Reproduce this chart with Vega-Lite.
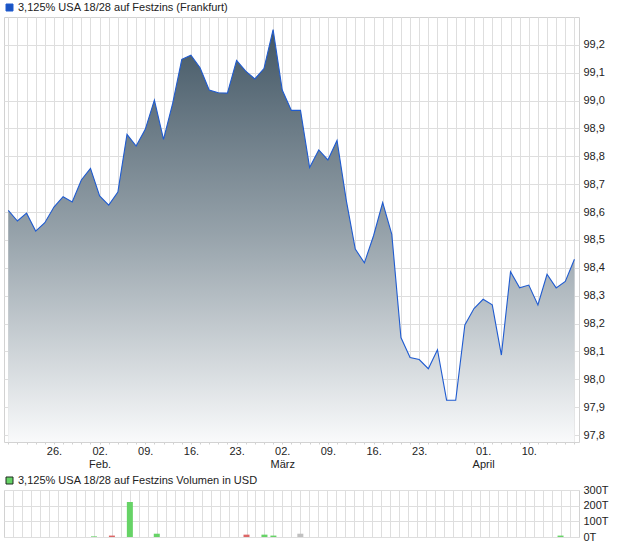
{
  "$schema": "https://vega.github.io/schema/vega-lite/v6.json",
  "background": "white",
  "padding": {"left": 3, "top": 1, "right": 0, "bottom": 0},
  "spacing": 4,
  "resolve": {"scale": {"color": "independent"}, "legend": {"color": "independent"}},
  "config": {
    "font": "Liberation Sans",
    "view": {"stroke": "#d2d2d2", "strokeWidth": 1},
    "axis": {"gridColor": "#dedede", "gridWidth": 1, "domain": false, "labelFont": "Liberation Sans", "labelFontSize": 11, "labelColor": "#222222", "tickColor": "#d0d0d0", "title": null},
    "legend": {"labelFont": "Liberation Sans", "labelFontSize": 11, "labelColor": "#222222", "title": null, "padding": 0, "symbolType": "square", "symbolSize": 49, "labelOffset": 3, "labelLimit": 400}
  },
  "datasets": {
    "d": [
      {"i": 0, "date": "2026-01-19", "price": 98.606, "vol": 0, "dir": "none"},
      {"i": 1, "date": "2026-01-20", "price": 98.568, "vol": 0, "dir": "none"},
      {"i": 2, "date": "2026-01-21", "price": 98.596, "vol": 0, "dir": "none"},
      {"i": 3, "date": "2026-01-22", "price": 98.532, "vol": 0, "dir": "none"},
      {"i": 4, "date": "2026-01-23", "price": 98.562, "vol": 0, "dir": "none"},
      {"i": 5, "date": "2026-01-26", "price": 98.618, "vol": 0, "dir": "none"},
      {"i": 6, "date": "2026-01-27", "price": 98.655, "vol": 0, "dir": "none"},
      {"i": 7, "date": "2026-01-28", "price": 98.636, "vol": 0, "dir": "none"},
      {"i": 8, "date": "2026-01-29", "price": 98.715, "vol": 0, "dir": "none"},
      {"i": 9, "date": "2026-01-30", "price": 98.757, "vol": 4000, "dir": "up"},
      {"i": 10, "date": "2026-02-02", "price": 98.658, "vol": 0, "dir": "none"},
      {"i": 11, "date": "2026-02-03", "price": 98.625, "vol": 9000, "dir": "down"},
      {"i": 12, "date": "2026-02-04", "price": 98.672, "vol": 0, "dir": "none"},
      {"i": 13, "date": "2026-02-05", "price": 98.879, "vol": 223000, "dir": "up"},
      {"i": 14, "date": "2026-02-06", "price": 98.837, "vol": 0, "dir": "none"},
      {"i": 15, "date": "2026-02-09", "price": 98.897, "vol": 0, "dir": "none"},
      {"i": 16, "date": "2026-02-10", "price": 99.002, "vol": 21000, "dir": "up"},
      {"i": 17, "date": "2026-02-11", "price": 98.861, "vol": 0, "dir": "none"},
      {"i": 18, "date": "2026-02-12", "price": 98.99, "vol": 0, "dir": "none"},
      {"i": 19, "date": "2026-02-13", "price": 99.148, "vol": 0, "dir": "none"},
      {"i": 20, "date": "2026-02-16", "price": 99.163, "vol": 0, "dir": "none"},
      {"i": 21, "date": "2026-02-17", "price": 99.118, "vol": 0, "dir": "none"},
      {"i": 22, "date": "2026-02-18", "price": 99.038, "vol": 0, "dir": "none"},
      {"i": 23, "date": "2026-02-19", "price": 99.028, "vol": 0, "dir": "none"},
      {"i": 24, "date": "2026-02-20", "price": 99.027, "vol": 0, "dir": "none"},
      {"i": 25, "date": "2026-02-23", "price": 99.144, "vol": 0, "dir": "none"},
      {"i": 26, "date": "2026-02-24", "price": 99.106, "vol": 15000, "dir": "down"},
      {"i": 27, "date": "2026-02-25", "price": 99.078, "vol": 0, "dir": "none"},
      {"i": 28, "date": "2026-02-26", "price": 99.115, "vol": 15000, "dir": "up"},
      {"i": 29, "date": "2026-02-27", "price": 99.255, "vol": 9000, "dir": "up"},
      {"i": 30, "date": "2026-03-02", "price": 99.038, "vol": 0, "dir": "none"},
      {"i": 31, "date": "2026-03-03", "price": 98.965, "vol": 0, "dir": "none"},
      {"i": 32, "date": "2026-03-04", "price": 98.965, "vol": 21000, "dir": "flat"},
      {"i": 33, "date": "2026-03-05", "price": 98.76, "vol": 0, "dir": "none"},
      {"i": 34, "date": "2026-03-06", "price": 98.823, "vol": 0, "dir": "none"},
      {"i": 35, "date": "2026-03-09", "price": 98.787, "vol": 0, "dir": "none"},
      {"i": 36, "date": "2026-03-10", "price": 98.857, "vol": 0, "dir": "none"},
      {"i": 37, "date": "2026-03-11", "price": 98.645, "vol": 0, "dir": "none"},
      {"i": 38, "date": "2026-03-12", "price": 98.467, "vol": 0, "dir": "none"},
      {"i": 39, "date": "2026-03-13", "price": 98.418, "vol": 0, "dir": "none"},
      {"i": 40, "date": "2026-03-16", "price": 98.515, "vol": 0, "dir": "none"},
      {"i": 41, "date": "2026-03-17", "price": 98.634, "vol": 0, "dir": "none"},
      {"i": 42, "date": "2026-03-18", "price": 98.52, "vol": 0, "dir": "none"},
      {"i": 43, "date": "2026-03-19", "price": 98.15, "vol": 0, "dir": "none"},
      {"i": 44, "date": "2026-03-20", "price": 98.078, "vol": 0, "dir": "none"},
      {"i": 45, "date": "2026-03-23", "price": 98.071, "vol": 0, "dir": "none"},
      {"i": 46, "date": "2026-03-24", "price": 98.038, "vol": 0, "dir": "none"},
      {"i": 47, "date": "2026-03-25", "price": 98.106, "vol": 0, "dir": "none"},
      {"i": 48, "date": "2026-03-26", "price": 97.925, "vol": 0, "dir": "none"},
      {"i": 49, "date": "2026-03-27", "price": 97.925, "vol": 0, "dir": "none"},
      {"i": 50, "date": "2026-03-30", "price": 98.195, "vol": 0, "dir": "none"},
      {"i": 51, "date": "2026-03-31", "price": 98.254, "vol": 0, "dir": "none"},
      {"i": 52, "date": "2026-04-01", "price": 98.287, "vol": 0, "dir": "none"},
      {"i": 53, "date": "2026-04-02", "price": 98.267, "vol": 0, "dir": "none"},
      {"i": 54, "date": "2026-04-07", "price": 98.087, "vol": 0, "dir": "none"},
      {"i": 55, "date": "2026-04-08", "price": 98.386, "vol": 0, "dir": "none"},
      {"i": 56, "date": "2026-04-09", "price": 98.328, "vol": 0, "dir": "none"},
      {"i": 57, "date": "2026-04-10", "price": 98.338, "vol": 0, "dir": "none"},
      {"i": 58, "date": "2026-04-13", "price": 98.267, "vol": 0, "dir": "none"},
      {"i": 59, "date": "2026-04-14", "price": 98.377, "vol": 0, "dir": "none"},
      {"i": 60, "date": "2026-04-15", "price": 98.328, "vol": 0, "dir": "none"},
      {"i": 61, "date": "2026-04-16", "price": 98.351, "vol": 9000, "dir": "up"},
      {"i": 62, "date": "2026-04-17", "price": 98.431, "vol": 0, "dir": "none"}
    ]
  },
  "vconcat": [
    {
      "width": 575,
      "height": 425,
      "data": {"name": "d"},
      "encoding": {
        "x": {
          "field": "i",
          "type": "quantitative",
          "scale": {"domain": [-0.47, 62.5], "nice": false, "zero": false},
          "axis": {
            "values": [0,1,2,3,4,5,6,7,8,9,10,11,12,13,14,15,16,17,18,19,20,21,22,23,24,25,26,27,28,29,30,31,32,33,34,35,36,37,38,39,40,41,42,43,44,45,46,47,48,49,50,51,52,53,54,55,56,57,58,59,60,61,62],
            "grid": true,
            "tickSize": 2,
            "labelPadding": 1,
            "labelOverlap": false,
            "labelFlush": false,
            "labelLineHeight": 13,
            "labelBaseline": "top",
            "labelExpr": "datum.value==5?'26.':datum.value==10?['02.','Feb.']:datum.value==15?'09.':datum.value==20?'16.':datum.value==25?'23.':datum.value==30?['02.','März']:datum.value==35?'09.':datum.value==40?'16.':datum.value==45?'23.':datum.value==52?['01.','April']:datum.value==57?'10.':''"
          }
        },
        "y": {
          "field": "price",
          "type": "quantitative",
          "scale": {"domain": [97.775, 99.3], "nice": false, "zero": false},
          "axis": {
            "orient": "right",
            "values": [97.8, 97.9, 98.0, 98.1, 98.2, 98.3, 98.4, 98.5, 98.6, 98.7, 98.8, 98.9, 99.0, 99.1, 99.2],
            "ticks": false,
            "labelPadding": 4,
            "labelFlush": false,
            "labelExpr": "replace(format(datum.value, '.1f'), '.', ',')"
          }
        }
      },
      "layer": [
        {
          "mark": {
            "type": "area",
            "color": {
              "gradient": "linear",
              "x1": 0, "y1": 0, "x2": 0, "y2": 1,
              "stops": [
                {"offset": 0, "color": "#435765"},
                {"offset": 0.5, "color": "#97a3ab"},
                {"offset": 1, "color": "#f9fafb"}
              ]
            }
          },
          "encoding": {"y2": {"datum": 97.775}}
        },
        {
          "mark": {"type": "line", "strokeWidth": 1.1},
          "encoding": {
            "color": {
              "datum": "3,125% USA 18/28 auf Festzins (Frankfurt)",
              "scale": {"range": ["#1f5bd0"]},
              "legend": {
                "orient": "top",
                "offset": 4,
                "encode": {"symbols": {"update": {"fill": {"value": "#1b54c2"}, "stroke": {"value": "#1c2a44"}, "strokeWidth": {"value": 1}, "opacity": {"value": 1}}}}
              }
            }
          }
        }
      ]
    },
    {
      "width": 575,
      "height": 47,
      "data": {"name": "d"},
      "transform": [{"filter": "datum.vol > 0"}],
      "mark": {"type": "bar", "size": 6},
      "encoding": {
        "x": {
          "field": "i",
          "type": "quantitative",
          "scale": {"domain": [-0.47, 62.5], "nice": false, "zero": false},
          "axis": {
            "values": [0,1,2,3,4,5,6,7,8,9,10,11,12,13,14,15,16,17,18,19,20,21,22,23,24,25,26,27,28,29,30,31,32,33,34,35,36,37,38,39,40,41,42,43,44,45,46,47,48,49,50,51,52,53,54,55,56,57,58,59,60,61,62],
            "grid": true,
            "ticks": false,
            "labels": false
          }
        },
        "y": {
          "field": "vol",
          "type": "quantitative",
          "scale": {"domain": [0, 300000], "nice": false},
          "axis": {
            "orient": "right",
            "values": [0, 100000, 200000, 300000],
            "ticks": false,
            "labelPadding": 4,
            "labelFlush": false,
            "labelExpr": "(datum.value/1000) + 'T'"
          }
        },
        "color": {
          "field": "dir",
          "type": "nominal",
          "scale": {"domain": ["up", "down", "flat"], "range": ["#66d366", "#dc6666", "#c0c0c0"]},
          "legend": {
            "orient": "top",
            "offset": 4,
            "values": ["up"],
            "labelExpr": "'3,125% USA 18/28 auf Festzins Volumen in USD'",
            "encode": {"symbols": {"update": {"stroke": {"value": "#1f2a20"}, "strokeWidth": {"value": 1}}}}
          }
        }
      }
    }
  ]
}
